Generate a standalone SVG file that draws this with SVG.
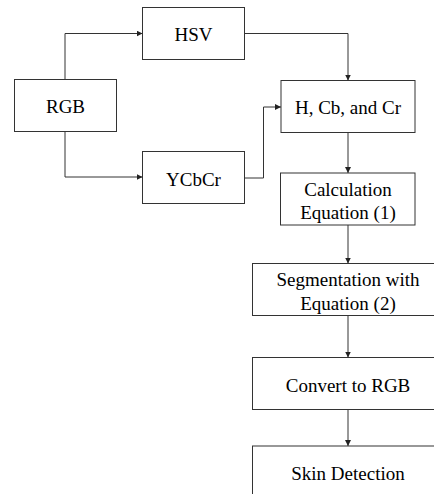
<svg xmlns="http://www.w3.org/2000/svg" width="434" height="494" viewBox="0 0 434 494">
<style>
.box{fill:#fff;stroke:#333;stroke-width:1}
.t{font-family:"Liberation Serif","Times New Roman",serif;font-size:19px;fill:#000;text-anchor:middle}
.c{fill:none;stroke:#333;stroke-width:1}
</style>
<defs>
<marker id="ah" markerUnits="userSpaceOnUse" markerWidth="6" markerHeight="6" refX="6" refY="3" orient="auto">
<path d="M0,0 L6,3 L0,6 z" fill="#222"/>
</marker>
</defs>
<rect width="434" height="494" fill="#fff"/>
<g id="connectors">
<path class="c" d="M65,79.5 V33.5 H142.5" marker-end="url(#ah)"/>
<path class="c" d="M65,131.5 V177 H142.5" marker-end="url(#ah)"/>
<path class="c" d="M244.5,33.5 H348 V80.5" marker-end="url(#ah)"/>
<path class="c" d="M244.5,178 H263.5 V107 H281" marker-end="url(#ah)"/>
<path class="c" d="M348,132.5 V173" marker-end="url(#ah)"/>
<path class="c" d="M348,225 V263.5" marker-end="url(#ah)"/>
<path class="c" d="M348,315.5 V357.5" marker-end="url(#ah)"/>
<path class="c" d="M348,409.5 V446" marker-end="url(#ah)"/>
</g>
<g id="rgb"><rect class="box" x="14.5" y="79.5" width="102" height="52"/><text class="t" x="65.5" y="112.5">RGB</text></g>
<g id="hsv"><rect class="box" x="142.5" y="7.5" width="102" height="52"/><text class="t" x="193.5" y="41">HSV</text></g>
<g id="ycbcr"><rect class="box" x="142.5" y="151.5" width="102" height="52"/><text class="t" x="193.5" y="185.5">YCbCr</text></g>
<g id="hcbcr"><rect class="box" x="281" y="80.5" width="134" height="52"/><text class="t" x="348" y="114">H, Cb, and Cr</text></g>
<g id="calc"><rect class="box" x="280.5" y="173" width="134.5" height="52"/><text class="t" x="348" y="195.5">Calculation</text><text class="t" x="348" y="219">Equation (1)</text></g>
<g id="seg"><rect class="box" x="252.5" y="263.5" width="192" height="52"/><text class="t" x="348" y="286">Segmentation with</text><text class="t" x="348" y="309.5">Equation (2)</text></g>
<g id="convert"><rect class="box" x="252.5" y="357.5" width="192" height="52"/><text class="t" x="348" y="391.5">Convert to RGB</text></g>
<g id="skin"><rect class="box" x="252.5" y="446" width="192" height="52"/><text class="t" x="348" y="479.5">Skin Detection</text></g>
</svg>
